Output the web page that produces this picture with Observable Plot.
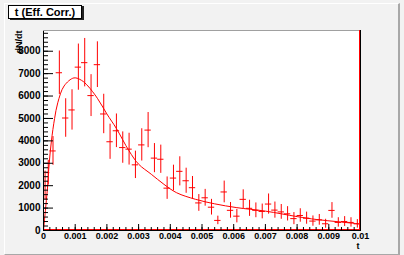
<!DOCTYPE html>
<html><head><meta charset="utf-8">
<script src="https://cdn.jsdelivr.net/npm/d3@7"></script>
<script src="https://cdn.jsdelivr.net/npm/@observablehq/plot@0.6"></script>
<style>
html,body{margin:0;padding:0;background:#f2f2f2;}
#wrap{position:relative;width:404px;height:255px;overflow:hidden;background:#f2f2f2;}
#bevel{position:absolute;left:4px;top:3px;width:393px;height:250px;border-left:1px solid #fff;border-top:1px solid #fff;border-right:2px solid #a8a8a8;border-bottom:1px solid #a8a8a8;box-sizing:content-box;}
#chart{position:absolute;left:0;top:0;}
#title{position:absolute;left:8px;top:5px;width:72px;height:12px;border:1px solid #000;background:#fff;box-shadow:2px 1px 0 #222;font:bold 11px "Liberation Sans",Arial,sans-serif;line-height:12px;text-align:center;color:#000;white-space:nowrap;}
</style>
</head><body>
<div id="wrap"><div id="bevel"></div><div id="chart"></div><div id="title">t (Eff. Corr.)</div></div>
<script>
// ---- data ----
const binEdges = [0, 0.0001, 0.0002, 0.0004, 0.0006, 0.0008, 0.0010, 0.0012, 0.0014, 0.0016, 0.0018,
  0.0020, 0.0022, 0.0024, 0.0026, 0.0028, 0.0030, 0.0032, 0.0034, 0.0036, 0.0038,
  0.0040, 0.0042, 0.0044, 0.0046, 0.0048, 0.0050, 0.0052, 0.0054, 0.0056, 0.0058,
  0.0060, 0.0062, 0.0064, 0.0066, 0.0068, 0.0070, 0.0072, 0.0074, 0.0076, 0.0078,
  0.0080, 0.0082, 0.0084, 0.0086, 0.0088, 0.0090, 0.0092, 0.0094, 0.0096, 0.0098, 0.0100];
const counts = [2000, 2580, 3550,
  7040, 5020, 5380, 7290, 7490, 6020, 7400, 5200, 3960, 4450,
  3700, 3630, 2930, 3820, 4480, 3230, 3180, 1890, 2340, 2640,
  2220, 1910, 1230, 1460, 1040, 450, 1720, 900, 640, 1390,
  990, 900, 850, 1180, 910, 830, 744, 530, 670, 550,
  420, 475, 300, 896, 360, 400, 360, 296];
const errors = [650, 550, 640,
  970, 860, 900, 1030, 1080, 935, 1020, 880, 785, 750,
  700, 710, 612, 720, 785, 650, 630, 500, 575, 650,
  560, 500, 375, 375, 350, 190, 485, 350, 300, 425,
  360, 330, 330, 450, 360, 330, 320, 270, 300, 270,
  230, 240, 200, 350, 210, 220, 210, 190];
const curveT = [0, 0.00006, 0.00012, 0.00018, 0.00025, 0.00035, 0.00045, 0.00065, 0.00096, 0.0012, 0.0014,
  0.0017, 0.0020, 0.0023, 0.0027, 0.0030, 0.0034, 0.0038, 0.0042, 0.0048, 0.0054, 0.0061, 0.0070,
  0.0080, 0.0086, 0.0093, 0.0100];
const curveV = [0, 900, 1800, 3000, 4000, 5000, 5700, 6450, 6810, 6700, 6450,
  5900, 5200, 4550, 3550, 2960, 2510, 2060, 1685, 1390, 1190, 1020, 865,
  620, 493, 390, 290];
const yTicks = [0, 1000, 2000, 3000, 4000, 5000, 6000, 7000, 8000];
const yTickLabels = ["0", "1000", "2000", "3000", "4000", "5000", "6000", "7000", "8000"];
const xTicks = [0, 0.001, 0.002, 0.003, 0.004, 0.005, 0.006, 0.007, 0.008, 0.009, 0.01];
const xTickLabels = ["0", "0.001", "0.002", "0.003", "0.004", "0.005", "0.006", "0.007", "0.008", "0.009", "0.01"];
const xTitle = "t";
const yTitle = "dN/dt";
const xMax = 0.01, yMax = 8925;

// ---- tables ----
const bins = counts.map((v, i) => ({lo: binEdges[i], hi: binEdges[i + 1], t: (binEdges[i] + binEdges[i + 1]) / 2, v, e: errors[i]}));
const curve = curveT.map((t, i) => ({t, v: curveV[i]}));
const yMinor = d3.range(0, yMax, 200);
const xMinor = d3.range(0, xMax + 1e-9, 0.0002);

const red = "#ff0000";
const FW = 317, FH = 200;
const font = "'Liberation Sans', Arial, Helvetica, sans-serif";

const chart = Plot.plot({
  width: 404, height: 255,
  marginLeft: 43, marginRight: 44, marginTop: 30, marginBottom: 25,
  x: {domain: [0, xMax], axis: null},
  y: {domain: [0, yMax], axis: null},
  style: {background: "transparent", fontFamily: font, color: "black", overflow: "visible"},
  marks: [
    Plot.frame({fill: "white", stroke: null}),
    Plot.ruleX(bins, {x: "t", y1: d => d.v - d.e, y2: d => d.v + d.e, stroke: red, strokeWidth: 1}),
    Plot.ruleY(bins, {y: "v", x1: "lo", x2: "hi", stroke: red, strokeWidth: 1}),
    Plot.line(curve, {x: "t", y: "v", stroke: red, strokeWidth: 1, curve: "catmull-rom"}),
    Plot.frame({stroke: "black"}),
    Plot.ruleY([yMax], {stroke: "#a0a0a0"}),
    Plot.ruleY([0], {stroke: red, dy: -1}),
    Plot.ruleX([xMax], {stroke: red, dx: -1}),
    Plot.tickY(yMinor, {y: d => d, insetRight: FW - 5, stroke: "black"}),
    Plot.tickY(yTicks, {y: d => d, insetRight: FW - 10, stroke: "black"}),
    Plot.tickX(xMinor, {x: d => d, insetTop: FH - 3, stroke: "black"}),
    Plot.tickX(xTicks, {x: d => d, insetTop: FH - 6, stroke: "black"}),
    Plot.text(yTicks, {y: d => d, text: (d, i) => yTickLabels[i], frameAnchor: "left", textAnchor: "end", lineAnchor: "middle", dx: -3, fontSize: 10, fontWeight: "bold", fill: "black"}),
    Plot.text(xTicks, {x: d => d, text: (d, i) => xTickLabels[i], frameAnchor: "bottom", lineAnchor: "bottom", dy: 8.5, fontSize: 9, fontWeight: "bold", fill: "black"}),
    Plot.text([xTitle], {text: d => d, frameAnchor: "bottom-right", textAnchor: "end", lineAnchor: "bottom", dx: -1, dy: 18, fontSize: 9, fontWeight: "bold", fill: "black"}),
    Plot.text([yTitle], {text: d => d, frameAnchor: "top-left", rotate: -90, textAnchor: "end", lineAnchor: "bottom", dx: -21.5, dy: 0, fontSize: 9, fontWeight: "bold", fill: "black"})
  ]
});
document.getElementById("chart").appendChild(chart);
</script>
</body></html>
